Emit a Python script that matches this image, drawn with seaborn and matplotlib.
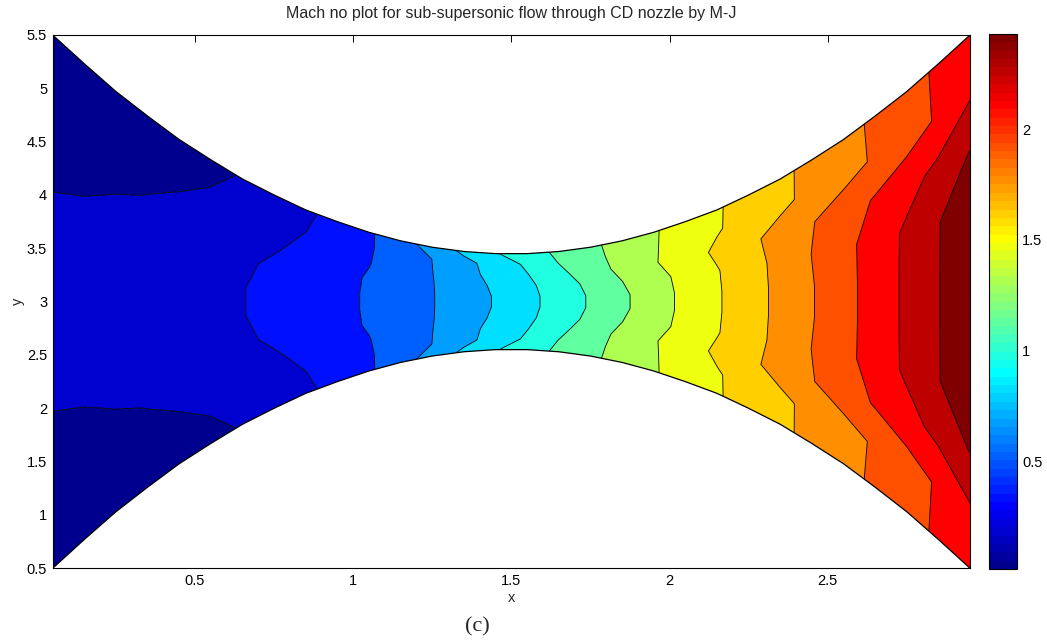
import numpy as np
import matplotlib
matplotlib.use("Agg")
import matplotlib.pyplot as plt
from matplotlib.colors import Normalize, ListedColormap
from matplotlib.cm import ScalarMappable
from matplotlib.ticker import FormatStrFormatter
import seaborn as sns

# Grid stations along the nozzle axis (cell centres)
x_stations = [0.05, 0.15, 0.25, 0.35, 0.45, 0.55, 0.65, 0.75, 0.85, 0.95,
              1.05, 1.15, 1.25, 1.35, 1.45, 1.55, 1.65, 1.75, 1.85, 1.95,
              2.05, 2.15, 2.25, 2.35, 2.45, 2.55, 2.65, 2.75, 2.85, 2.95]

# Nozzle half-height about the centreline y = 3
half_height = [2.50, 2.23, 1.97, 1.74, 1.52, 1.33, 1.15, 1.00, 0.86, 0.75,
               0.65, 0.57, 0.51, 0.47, 0.45, 0.45, 0.47, 0.51, 0.57, 0.65,
               0.75, 0.86, 1.00, 1.15, 1.33, 1.52, 1.74, 1.97, 2.23, 2.50]

# Normalised transverse positions of the grid rows (-1 = lower wall, 1 = upper wall)
eta_rows = [-1.0, -0.778, -0.556, -0.333, -0.111, 0.111, 0.333, 0.556, 0.778, 1.0]

# Mach number on each grid row, from the axis out to the wall
mach_axis = [0.210, 0.223, 0.237, 0.250, 0.277, 0.304, 0.330, 0.372, 0.416, 0.461,
             0.510, 0.580, 0.650, 0.738, 0.830, 0.935, 1.044, 1.157, 1.272, 1.389,
             1.501, 1.607, 1.716, 1.826, 1.937, 2.054, 2.176, 2.299, 2.424, 2.550]
mach_row1 = [0.183, 0.186, 0.198, 0.215, 0.240, 0.270, 0.310, 0.358, 0.407, 0.455,
             0.507, 0.579, 0.651, 0.746, 0.844, 0.946, 1.061, 1.180, 1.300, 1.406,
             1.511, 1.614, 1.721, 1.832, 1.949, 2.060, 2.175, 2.297, 2.424, 2.530]
mach_row2 = [0.155, 0.160, 0.167, 0.175, 0.182, 0.215, 0.258, 0.310, 0.368, 0.429,
             0.490, 0.571, 0.655, 0.763, 0.869, 0.972, 1.101, 1.226, 1.343, 1.449,
             1.551, 1.651, 1.748, 1.844, 1.938, 2.030, 2.121, 2.211, 2.313, 2.440]
mach_row3 = [0.130, 0.139, 0.148, 0.157, 0.166, 0.175, 0.222, 0.278, 0.331, 0.405,
             0.481, 0.568, 0.658, 0.771, 0.885, 1.005, 1.145, 1.253, 1.355, 1.450,
             1.532, 1.611, 1.683, 1.754, 1.824, 1.893, 1.964, 2.041, 2.126, 2.250]
mach_wall = [0.100, 0.113, 0.126, 0.138, 0.151, 0.162, 0.176, 0.240, 0.305, 0.385,
             0.474, 0.592, 0.721, 0.850, 0.967, 1.070, 1.171, 1.269, 1.362, 1.449,
             1.530, 1.610, 1.682, 1.754, 1.825, 1.898, 1.972, 2.051, 2.132, 2.210]

# Colour scale limits and contour count
c_min, c_max = 0.012, 2.43
n_steps = 15

x_ticks = [0.5, 1, 1.5, 2, 2.5]
y_ticks = [0.5, 1, 1.5, 2, 2.5, 3, 3.5, 4, 4.5, 5, 5.5]
cbar_ticks = [0.5, 1, 1.5, 2]

sns.set_style("white")
plt.rcParams["font.family"] = ["Liberation Sans", "DejaVu Sans"]


def classic_jet(n=64):
    """Classic 'jet' table (blue -> cyan -> yellow -> red), n entries."""
    m = int(np.ceil(n / 4))
    u = np.concatenate([np.arange(1, m + 1) / m, np.ones(m - 1), np.arange(m, 0, -1) / m])
    g = int(np.ceil(m / 2)) - (1 if n % 4 == 1 else 0) + np.arange(1, len(u) + 1)
    r = g + m
    b = g - m
    table = np.zeros((n, 3))
    for idx, ch in ((r, 0), (g, 1), (b, 2)):
        ok = (idx >= 1) & (idx <= n)
        table[idx[ok] - 1, ch] = u[ok]
    return ListedColormap(table, name="classic_jet")


# Curvilinear grid through the nozzle
xs = np.asarray(x_stations)
hs = np.asarray(half_height)
eta = np.asarray(eta_rows)
X = np.tile(xs, (len(eta), 1))
Y = 3.0 + np.outer(eta, hs)
M = np.array([mach_wall, mach_row3, mach_row2, mach_row1, mach_axis,
              mach_axis, mach_row1, mach_row2, mach_row3, mach_wall])

jet64 = classic_jet(64)
levels = np.linspace(c_min, c_max, n_steps + 1)
band_colors = [jet64(int(round(k * 63 / n_steps))) for k in range(n_steps + 1)]
fill_levels = np.concatenate([[M.min() - 1.0], levels[1:], [M.max() + 1.0]])

fig = plt.figure(figsize=(10.47, 6.43), dpi=100)
ax = fig.add_axes([0.0503, 0.1162, 0.8762, 0.8294])

ax.contourf(X, Y, M, levels=fill_levels, colors=band_colors, antialiased=True)
ax.contour(X, Y, M, levels=levels[1:], colors="k", linewidths=0.6)

# Nozzle walls
sns.lineplot(x=xs, y=3.0 + hs, ax=ax, color="k", linewidth=0.9, estimator=None)
sns.lineplot(x=xs, y=3.0 - hs, ax=ax, color="k", linewidth=0.9, estimator=None)

ax.set_xlim(0.05, 2.95)
ax.set_ylim(0.5, 5.5)
ax.set_xticks(x_ticks)
ax.set_yticks(y_ticks)
ax.xaxis.set_major_formatter(FormatStrFormatter("%g"))
ax.yaxis.set_major_formatter(FormatStrFormatter("%g"))
ax.tick_params(direction="in", length=5, width=0.7, labelsize=10.5,
               top=True, right=True, colors="k", pad=4)
for s in ax.spines.values():
    s.set_color("k")
    s.set_linewidth(0.8)
    s.set_visible(True)

ax.set_xlabel("x", fontsize=10.5, labelpad=2)
ax.set_ylabel("y", fontsize=10.5, labelpad=1)
ax.set_title("Mach no plot for sub-supersonic flow through CD nozzle by M-J",
             fontsize=11.5, pad=12)

# Colour bar
cax = fig.add_axes([0.9449, 0.1151, 0.0267, 0.832])
sm = ScalarMappable(norm=Normalize(c_min, c_max), cmap=jet64)
cb = fig.colorbar(sm, cax=cax, ticks=cbar_ticks)
cb.ax.yaxis.set_major_formatter(FormatStrFormatter("%g"))
cb.ax.tick_params(direction="in", length=4, width=0.7, labelsize=10.5,
                  left=True, right=True, colors="k")
cb.outline.set_edgecolor("k")
cb.outline.set_linewidth(0.8)

fig.text(0.4556, 1 - 627 / 643, "(c)", family="Liberation Serif",
         fontsize=16, ha="center", va="center")

fig.savefig("out.png", dpi=100)
